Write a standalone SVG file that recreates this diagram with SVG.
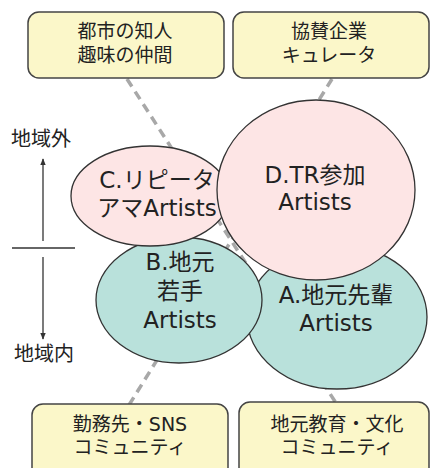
<svg xmlns="http://www.w3.org/2000/svg" width="430" height="468" viewBox="0 0 430 468">
<defs>
<style>
.box{fill:#fbf7c9;stroke:#444;stroke-width:1.5}
.pink{fill:#fde5e5;stroke:#333;stroke-width:1.3}
.teal{fill:#b9e1db;stroke:#333;stroke-width:1.3}
.dash{stroke:#a8a8a8;stroke-width:3.5;stroke-dasharray:9 6;fill:none}
.ax{stroke:#333;stroke-width:1.3;fill:none}
text{font-family:"DejaVu Sans","Noto Sans CJK JP",sans-serif;fill:#222;text-anchor:middle}
.bt{font-size:19px}
.et{font-size:23px}
.at{font-size:20px;text-anchor:start}
</style>
<marker id="ah" viewBox="0 0 10 10" refX="9" refY="5" markerWidth="7" markerHeight="7" orient="auto-start-reverse" markerUnits="userSpaceOnUse">
<path d="M0,1 L10,5 L0,9 z" fill="#333"/>
</marker>
</defs>
<g id="connectors">
<line class="dash" x1="127" y1="79" x2="336" y2="403"/>
<line class="dash" x1="332" y1="79" x2="129" y2="405"/>
</g>
<g id="axis">
<line class="ax" x1="43" y1="241" x2="43" y2="159" marker-end="url(#ah)"/>
<line class="ax" x1="12" y1="248" x2="75" y2="248"/>
<line class="ax" x1="43" y1="257" x2="43" y2="339" marker-end="url(#ah)"/>
<text class="at" x="11" y="146">地域外</text>
<text class="at" x="14" y="361">地域内</text>
</g>
<g id="box-tl">
<rect class="box" x="28" y="12" width="196" height="66" rx="11"/>
<text class="bt" x="125" y="38">都市の知人</text>
<text class="bt" x="125" y="62">趣味の仲間</text>
</g>
<g id="box-tr">
<rect class="box" x="233" y="12" width="196" height="66" rx="11"/>
<text class="bt" x="329" y="38">協賛企業</text>
<text class="bt" x="329" y="62">キュレータ</text>
</g>
<g id="box-bl">
<rect class="box" x="32" y="404" width="196" height="80" rx="11"/>
<text class="bt" x="130" y="431">勤務先・SNS</text>
<text class="bt" x="130" y="454">コミュニティ</text>
</g>
<g id="box-br">
<rect class="box" x="239" y="402" width="190" height="80" rx="11"/>
<text class="bt" x="337" y="431">地元教育・文化</text>
<text class="bt" x="337" y="454">コミュニティ</text>
</g>
<g id="node-A">
<ellipse class="teal" cx="337" cy="317" rx="90" ry="72"/>
<text class="et" x="336" y="303">A.地元先輩</text>
<text class="et" x="336" y="331">Artists</text>
</g>
<g id="node-B">
<ellipse class="teal" cx="179" cy="300" rx="83" ry="63"/>
<text class="et" x="180" y="270">B.地元</text>
<text class="et" x="180" y="299">若手</text>
<text class="et" x="180" y="328">Artists</text>
</g>
<g id="node-C">
<ellipse class="pink" cx="150" cy="196" rx="79" ry="50"/>
<text class="et" x="157" y="188">C.リピータ</text>
<text class="et" x="157" y="216">アマArtists</text>
</g>
<g id="node-D">
<ellipse class="pink" cx="316" cy="190" rx="99" ry="90"/>
<text class="et" x="315" y="183">D.TR参加</text>
<text class="et" x="315" y="210">Artists</text>
</g>
</svg>
